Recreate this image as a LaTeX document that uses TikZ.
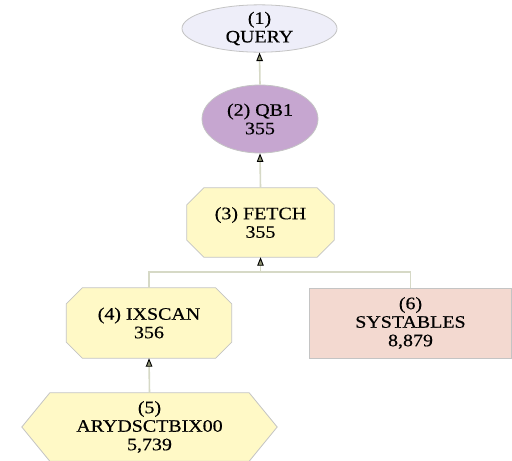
\documentclass[tikz,border=0pt]{standalone}
\usepackage{fontspec}
\setmainfont{Liberation Serif}[FakeStretch=1.14,FakeBold=0.4]
\usetikzlibrary{shapes.geometric,arrows.meta,calc,backgrounds}
\definecolor{lavfill}{HTML}{EEEEF9}
\definecolor{purpfill}{HTML}{C6A6D0}
\definecolor{yelfill}{HTML}{FFF9C6}
\definecolor{pinkfill}{HTML}{F3D9D0}
\definecolor{bordergray}{HTML}{C4C4C4}
\definecolor{edgecol}{HTML}{D6D9C6}
\definecolor{tipfill}{HTML}{8C9070}
\newcommand\octshape[3]{%
  \draw[#3] ($(#1.north west)+(#2,0)$) -- ($(#1.north east)+(-#2,0)$)
    -- ($(#1.north east)+(0,#2)$) -- ($(#1.south east)+(0,-#2)$)
    -- ($(#1.south east)+(-#2,0)$) -- ($(#1.south west)+(#2,0)$)
    -- ($(#1.south west)+(0,-#2)$) -- ($(#1.north west)+(0,#2)$) -- cycle;}
\tikzset{
  lbl/.style={align=center, inner sep=0pt, font=\fontsize{17.5}{18.5}\selectfont},
  box/.style={lbl, rectangle, draw=none},
  ell/.style={lbl, ellipse, draw=bordergray, line width=0.8pt},
  shapeyel/.style={draw=bordergray, fill=yelfill, line width=0.8pt},
  edge/.style={draw=edgecol, line width=1.6pt,
    -{Triangle[length=8.5pt,width=6.5pt,line width=0.9pt,color=black,fill=tipfill]}},
  plain/.style={draw=edgecol, line width=1.6pt}
}
\begin{document}
\begin{tikzpicture}[x=1pt,y=-1pt]
\useasboundingbox (0,0) rectangle (512,461);
% nodes
\node[ell, fill=lavfill, minimum width=155pt, minimum height=43pt] (query) at (259.5,28.5) {(1)\\QUERY};
\node[ell, fill=purpfill, minimum width=116pt, minimum height=68pt] (qb1) at (260,119) {(2) QB1\\355};
\node[box, minimum width=147pt, minimum height=69pt] (fetch) at (260.5,222.5) {(3) FETCH\\355};
\node[box, minimum width=165pt, minimum height=70pt] (ixscan) at (149,323) {(4) IXSCAN\\356};
\node[box, draw=bordergray, line width=0.8pt, fill=pinkfill, minimum width=202pt, minimum height=70pt] (systables) at (410.5,323) {(6)\\SYSTABLES\\8,879};
\node[box, minimum width=255pt, minimum height=68pt] (aryd) at (149.5,427) {(5)\\ARYDSCTBIX00\\5,739};
\begin{scope}[on background layer]
  \fill[white] (0,0) rectangle (512,461);
  \octshape{fetch}{17}{shapeyel}
  \octshape{ixscan}{16}{shapeyel}
  \draw[shapeyel] ($(aryd.north west)+(28,0)$) -- ($(aryd.north east)+(-28,0)$)
     -- (aryd.east) -- ($(aryd.south east)+(-28,0)$)
     -- ($(aryd.south west)+(28,0)$) -- (aryd.west) -- cycle;
\end{scope}
% connectors
\coordinate (junc) at (260.5,272);
\draw[edge] (fetch.north) -- (qb1.south);
\draw[edge] (qb1.north) -- (query.south);
\draw[plain] (ixscan.north) |- (junc);
\draw[plain] (systables.north) |- (junc);
\draw[edge] (junc) -- (fetch.south);
\draw[edge] (aryd.north) -- (ixscan.south);
\end{tikzpicture}
\end{document}
